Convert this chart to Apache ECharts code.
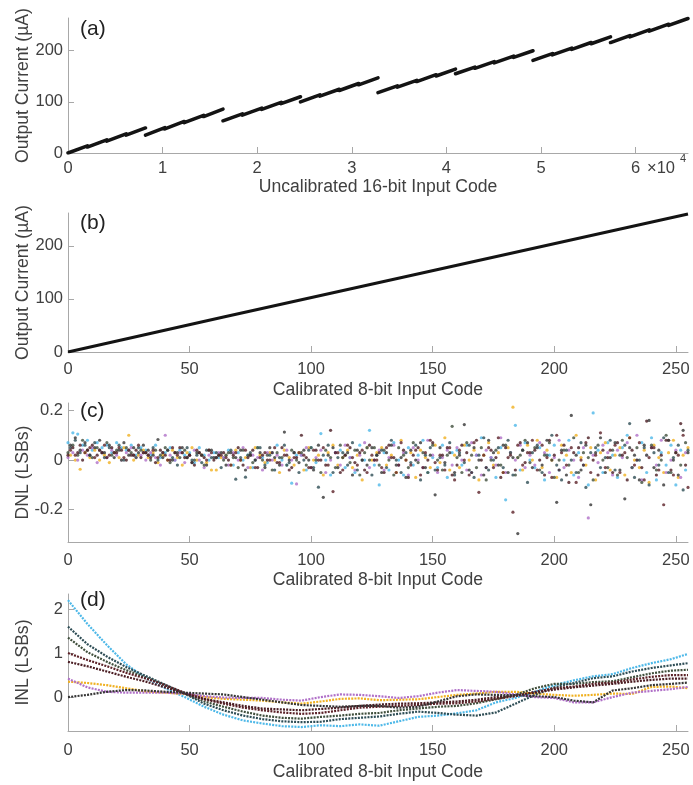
<!DOCTYPE html>
<html>
<head>
<meta charset="utf-8">
<script src="https://cdn.jsdelivr.net/npm/echarts/dist/echarts.min.js"></script>
<style>
  html, body { margin: 0; padding: 0; background: #fff; }
  #chart { width: 693px; height: 785px; }
</style>
</head>
<body>
<div id="chart"></div>
<script>
// (a) uncalibrated transfer curve: 2048-code sub-segments (start code, current at start, current at end)
var subStart = [0, 2048, 4096, 6144, 8192, 10240, 12288, 14336, 16384, 18432, 20480, 22528,
  24576, 26624, 28672, 30720, 32768, 34816, 36864, 38912, 40960, 43008, 45056, 47104,
  49152, 51200, 53248, 55296, 57344, 59392, 61440, 63488];
var subY0 = [0, 11.6, 23.3, 34.9, 35, 47.1, 59.2, 71.3, 63, 74.1, 85.2, 96.4,
  100, 111.1, 122.2, 133.4, 118, 128.9, 139.7, 150.6, 155, 165.6, 176.3, 186.9,
  181, 191.9, 202.7, 213.6, 216, 227.1, 238.2, 249.4];
var subY1 = [14.1, 25.8, 37.4, 49, 49.6, 61.7, 73.8, 86, 76.6, 87.7, 98.9, 110,
  113.6, 124.7, 135.9, 147, 131.4, 142.2, 153.1, 164, 168.1, 178.8, 189.4, 200,
  194.4, 205.2, 216.1, 227, 229.6, 240.7, 251.9, 263];

// (b) calibrated transfer curve
var calCodes = [0, 64, 128, 192, 255];
var calCurrent = [0, 66, 131, 196, 260];

// colours of the 8 devices
var devColors = ['#4DB8E8', '#F0B020', '#B070C8', '#404F3C', '#2E4D55', '#5C2228', '#4A1C22', '#353535'];

// (c) DNL, LSBs; even-code devices: blue, purple, olive, maroon2 ; odd-code devices: orange, slate, maroon, dark
var dnlBlue = [0.07,0.11,0.105,0.06,0.08,0.04,0.07,0.05,0.06,0.03,0.07,0.05,0.04,0.06,0.02,0.05,
  0.04,0.02,0.06,0.01,0.03,0.05,0.0,0.04,0.02,0.03,-0.01,0.05,0.02,0.0,0.03,0.01,
  0.01,0.04,-0.02,0.03,0.0,0.02,-0.03,0.05,0.01,-0.01,0.03,0.06,0.0,-0.02,-0.093,0.02,
  0.02,-0.04,0.05,-0.01,0.107,0.0,-0.06,0.03,0.04,-0.03,0.01,-0.05,0.06,0.0,0.12,-0.02,
  -0.1,0.03,-0.04,0.07,0.0,-0.06,0.05,-0.02,0.02,0.08,-0.05,0.01,-0.03,0.06,-0.07,0.03,
  0.04,-0.02,0.06,-0.05,0.02,0.09,-0.03,0.01,-0.07,0.05,-0.16,0.03,0.14,-0.04,0.07,0.0,
  -0.03,0.05,-0.08,0.02,0.06,-0.04,0.0,0.08,-0.06,0.03,-0.02,-0.1,0.19,0.04,-0.05,0.07,
  0.02,-0.07,0.05,0.1,-0.03,0.0,0.07,-0.05,0.09,-0.08,0.03,-0.02,0.06,-0.1,0.04,-0.04];
var dnlSlate = [0.05,0.08,0.03,0.06,0.02,0.07,0.04,0.01,0.05,0.03,0.06,0.0,0.04,0.02,0.05,0.03,
  0.02,0.05,0.0,0.03,0.04,0.01,-0.02,0.03,0.05,0.0,0.02,-0.01,0.04,0.01,0.03,-0.03,
  0.02,0.04,-0.077,0.01,-0.069,0.03,0.0,0.05,-0.02,0.02,-0.04,0.01,0.06,-0.01,0.03,-0.05,
  0.0,0.04,-0.03,-0.109,0.02,0.06,-0.05,0.01,0.03,-0.02,0.07,-0.04,0.0,0.05,-0.06,0.02,
  0.04,-0.03,0.08,0.0,-0.05,0.03,-0.01,0.06,-0.08,0.02,0.05,-0.04,0.01,-0.02,0.07,-0.06,
  0.03,-0.01,0.06,-0.07,0.02,0.09,-0.04,0.0,0.05,-0.03,0.08,-0.06,0.01,0.04,-0.09,0.03,
  0.06,-0.05,0.02,0.1,-0.02,-0.08,0.04,0.0,-0.05,0.07,-0.11,0.03,0.05,-0.03,0.01,0.08,
  -0.04,0.02,0.06,0.147,-0.07,0.0,0.05,-0.1,0.03,-0.02,0.09,-0.05,0.01,0.06,-0.12,0.04];
var dnlOlive = [0.03,0.06,0.02,0.08,0.04,0.01,0.05,0.03,0.07,0.02,0.04,0.0,0.05,0.03,0.01,0.04,
  0.03,0.0,0.04,0.02,0.05,-0.01,0.03,0.01,0.04,0.02,0.0,0.03,-0.02,0.04,0.01,0.02,
  0.0,0.03,0.01,-0.03,0.04,0.02,-0.01,0.05,0.0,0.02,-0.04,0.03,0.01,-0.02,0.04,0.0,
  0.03,-0.02,0.05,0.0,-0.05,0.04,0.01,-0.03,0.06,0.02,-0.01,0.04,-0.06,0.03,0.0,0.05,
  -0.02,0.04,0.0,-0.06,0.05,0.02,-0.03,0.07,-0.01,0.03,-0.05,0.06,0.0,-0.04,0.02,0.136,
  0.01,-0.05,0.07,0.02,-0.03,0.05,-0.08,0.0,0.04,-0.02,0.06,0.03,-0.06,0.02,0.08,-0.01,
  0.05,-0.04,0.02,0.07,-0.07,0.0,0.04,-0.02,0.09,-0.05,0.03,0.01,-0.08,0.06,0.0,-0.03,
  0.04,-0.06,0.08,0.01,-0.03,0.05,-0.09,0.02,0.06,-0.04,0.0,0.1,-0.05,0.03,-0.02,0.07];
var dnlMaroon = [0.04,0.02,0.06,0.03,0.05,0.01,0.04,0.06,0.02,0.03,0.05,0.01,0.04,0.02,0.06,0.03,
  0.02,0.04,0.01,0.03,0.0,0.05,0.02,0.03,0.01,-0.01,0.04,0.02,0.0,0.03,0.01,0.02,
  0.01,-0.02,0.03,0.0,0.04,0.02,-0.03,0.01,0.03,0.0,0.05,-0.01,0.02,-0.04,0.01,0.03,
  0.02,-0.03,0.04,0.0,0.05,-0.02,-0.127,0.03,-0.04,0.06,0.01,-0.02,0.04,-0.05,0.02,0.0,
  -0.03,0.05,0.01,-0.05,0.07,0.0,-0.02,0.04,-0.06,0.03,0.08,-0.01,0.02,-0.04,0.05,-0.08,
  0.04,0.0,-0.06,0.07,-0.13,0.02,0.05,-0.03,0.09,-0.05,0.01,-0.21,0.06,-0.02,0.03,0.08,
  -0.04,0.06,0.01,-0.07,0.1,0.03,-0.02,0.05,-0.09,0.0,0.07,-0.05,0.02,0.11,-0.03,0.04,
  0.06,-0.05,0.03,0.09,-0.02,0.07,-0.08,0.01,0.05,-0.04,-0.18,0.08,-0.06,0.02,0.1,-0.11];
var dnlMaroon2 = [0.02,0.05,0.03,0.0,0.04,0.06,0.02,0.03,0.01,0.05,0.03,0.04,0.0,0.02,0.04,0.01,
  0.03,0.01,-0.01,0.04,0.02,0.0,0.03,0.05,0.01,0.02,-0.02,0.03,0.01,0.04,0.0,0.02,
  0.03,0.0,0.02,0.05,-0.02,0.01,0.04,-0.03,0.02,0.0,0.03,-0.01,0.05,0.02,-0.03,0.01,
  0.1,0.01,-0.03,0.04,0.0,-0.02,0.12,0.03,-0.05,0.02,0.05,-0.01,0.03,-0.04,0.06,0.0,
  0.03,-0.05,0.06,0.01,-0.02,0.04,-0.07,0.02,0.05,-0.03,0.0,0.07,-0.04,0.02,0.05,-0.06,
  -0.02,0.06,0.03,-0.05,0.08,0.0,-0.03,0.04,0.01,-0.07,0.05,0.02,-0.04,0.07,-0.01,0.03,
  0.04,0.0,-0.06,0.08,0.02,-0.04,0.06,-0.09,0.03,0.05,-0.02,0.09,0.0,-0.06,0.04,0.01,
  -0.05,0.07,0.02,-0.08,0.04,0.0,-0.03,0.157,0.05,-0.06,0.02,0.08,-0.04,0.03,0.147,-0.02];
var dnlOrange = [0.02,0.0,-0.037,0.03,0.01,0.04,0.0,0.02,-0.01,0.03,0.01,0.05,0.1,0.0,0.02,0.04,
  0.01,0.03,-0.01,0.02,0.0,0.04,0.01,-0.02,0.03,0.05,0.0,0.02,-0.01,-0.04,-0.04,0.01,
  0.02,-0.02,0.04,0.0,0.01,-0.03,0.05,0.02,-0.01,0.03,0.0,-0.05,0.04,0.01,-0.02,0.03,
  -0.04,0.05,0.0,0.02,-0.06,0.03,0.06,-0.02,0.01,0.04,-0.03,0.02,-0.08,0.05,0.0,0.03,
  0.05,-0.02,0.02,-0.05,0.08,0.0,0.03,-0.07,0.04,0.01,-0.03,0.06,-0.01,0.09,-0.04,0.02,
  -0.03,0.06,0.0,0.04,-0.08,0.02,0.07,-0.02,0.03,-0.05,0.05,0.213,0.01,-0.04,0.06,0.0,
  0.08,-0.03,0.04,0.0,-0.07,0.06,0.02,-0.05,0.1,0.01,-0.02,0.05,-0.08,0.03,0.07,-0.04,
  0.02,0.05,-0.06,0.09,0.0,-0.03,0.04,-0.09,0.06,0.01,-0.05,0.03,0.08,-0.07,0.02,0.05];
var dnlPurple = [0.01,0.03,0.0,0.04,0.02,0.05,-0.01,0.03,0.01,0.04,0.02,0.0,0.03,0.05,0.01,0.02,
  0.0,0.03,0.01,-0.02,0.1,0.02,0.0,0.03,-0.01,0.02,0.04,0.0,-0.03,0.02,0.01,0.03,
  0.01,-0.02,0.03,0.0,0.05,-0.03,0.02,0.01,-0.04,0.03,0.0,0.02,-0.02,0.04,0.0,-0.096,
  0.02,0.05,-0.03,0.01,0.04,-0.05,0.0,0.03,-0.02,0.06,0.01,-0.04,0.02,0.07,-0.03,0.0,
  0.04,-0.04,0.01,0.06,-0.02,0.03,-0.06,0.05,0.0,-0.03,0.08,0.02,-0.05,0.01,0.04,-0.02,
  0.05,0.0,-0.04,0.07,0.02,-0.06,0.04,0.01,-0.02,0.09,-0.05,0.03,0.0,0.06,-0.03,0.02,
  -0.02,0.07,0.03,-0.05,0.01,0.08,-0.03,0.04,0.0,-0.07,0.05,-0.233,0.02,-0.01,0.06,0.03,
  -0.06,0.04,0.01,0.07,-0.03,0.1,-0.08,0.02,0.05,-0.02,0.08,-0.05,0.0,0.04,-0.07,0.03];
var dnlDark = [0.06,0.09,0.04,0.07,0.02,0.05,0.08,0.03,0.06,0.01,0.04,0.07,0.02,0.05,0.03,0.06,
  0.04,0.02,0.083,0.01,0.04,0.0,0.03,0.05,0.01,-0.01,0.03,0.02,-0.02,0.04,0.01,0.03,
  -0.02,0.03,0.01,0.04,-0.04,0.02,0.0,0.03,-0.03,0.05,0.01,-0.02,0.113,0.0,0.03,-0.01,
  0.04,0.0,-0.04,0.06,-0.15,0.02,0.05,-0.03,0.01,0.03,-0.06,0.04,0.0,-0.02,0.05,0.02,
  -0.05,0.03,0.06,-0.02,0.01,-0.07,0.04,0.0,0.07,-0.03,0.02,-0.14,0.05,-0.01,0.03,-0.05,
  0.02,0.143,-0.04,0.05,0.0,-0.06,0.08,0.03,-0.02,0.06,-0.05,0.01,-0.296,0.04,0.07,-0.03,
  0.05,-0.02,0.08,0.0,-0.17,0.04,-0.06,0.18,0.02,-0.04,0.06,-0.18,0.03,0.09,-0.05,0.01,
  0.07,-0.04,-0.156,0.05,0.02,-0.08,0.06,0.16,-0.03,0.04,-0.1,0.08,0.0,-0.06,0.12,0.03];

// (d) INL, LSBs, read every 8 codes
var inlCodes = [0, 8, 16, 24, 32, 40, 48, 56, 64, 72, 80, 88, 96, 104, 112, 120, 128,
  136, 144, 152, 160, 168, 176, 184, 192, 200, 208, 216, 224, 232, 240, 248, 255];
var inlBlue = [2.2,1.66,1.18,0.74,0.43,0.2,0.0,-0.22,-0.4,-0.53,-0.6,-0.66,-0.68,-0.64,-0.66,-0.62,-0.65,
  -0.55,-0.45,-0.42,-0.37,-0.3,-0.12,-0.02,0.12,0.27,0.38,0.47,0.52,0.66,0.77,0.86,0.98];
var inlOrange = [0.35,0.32,0.27,0.2,0.13,0.1,0.07,0.0,-0.04,-0.06,-0.08,-0.12,-0.15,-0.1,-0.04,-0.03,-0.07,
  -0.06,-0.05,0.0,0.05,0.08,0.12,0.12,0.08,0.05,0.03,0.05,0.08,0.07,0.23,0.24,0.2];
var inlPurple = [0.42,0.22,0.12,0.1,0.1,0.1,0.08,0.02,-0.01,-0.02,-0.02,-0.06,-0.08,0.0,0.06,0.05,0.02,
  -0.02,0.02,0.1,0.16,0.14,0.12,0.06,0.0,-0.02,-0.12,-0.12,0.0,0.1,0.14,0.18,0.23];
var inlOlive = [1.35,1.02,0.8,0.61,0.45,0.27,0.08,-0.1,-0.22,-0.33,-0.42,-0.47,-0.49,-0.45,-0.42,-0.38,-0.36,
  -0.3,-0.26,-0.22,-0.2,-0.14,-0.05,0.05,0.2,0.3,0.3,0.34,0.36,0.45,0.54,0.6,0.62];
var inlSlate = [1.6,1.2,0.92,0.68,0.48,0.28,0.08,-0.15,-0.3,-0.42,-0.5,-0.55,-0.57,-0.56,-0.5,-0.47,-0.44,
  -0.38,-0.33,-0.36,-0.4,-0.42,-0.35,-0.15,0.05,0.22,0.32,0.43,0.47,0.58,0.66,0.72,0.77];
var inlMaroon = [1.0,0.84,0.7,0.55,0.42,0.27,0.1,-0.05,-0.15,-0.24,-0.3,-0.35,-0.38,-0.36,-0.3,-0.24,-0.22,
  -0.2,-0.18,-0.15,-0.14,-0.1,-0.04,0.02,0.12,0.2,0.24,0.3,0.33,0.4,0.46,0.5,0.5];
var inlMaroon2 = [0.8,0.7,0.58,0.46,0.35,0.22,0.08,-0.04,-0.12,-0.2,-0.26,-0.28,-0.3,-0.27,-0.24,-0.2,-0.17,
  -0.15,-0.14,-0.12,-0.1,-0.06,0.0,0.04,0.1,0.17,0.22,0.26,0.3,0.35,0.39,0.42,0.42];
var inlDark = [0.0,0.05,0.12,0.16,0.15,0.12,0.1,0.08,0.06,0.0,-0.06,-0.12,-0.18,-0.2,-0.22,-0.2,-0.2,
  -0.24,-0.22,-0.1,0.02,0.06,0.05,0.04,0.02,0.0,-0.08,-0.12,0.15,0.2,0.27,0.3,0.33];

var codeTicks8 = [0, 50, 100, 150, 200, 250];
var codeTicks16 = [0, 10000, 20000, 30000, 40000, 50000, 60000];
var currentTicks = [0, 100, 200];
var dnlTicks = [-0.2, 0, 0.2];
var inlTicks = [0, 1, 2];

var FONT = '"Liberation Sans", Arial, Helvetica, sans-serif';
var TEXT = '#404040';
var AXIS = '#a8a8a8';

var chart = echarts.init(document.getElementById('chart'));

function xAxis(grid, max, ticks, name, margin, gap, fmt) {
  return {
    type: 'value', gridIndex: grid, min: 0, max: max,
    name: name, nameLocation: 'middle', nameGap: gap, nameMoveOverlap: false,
    nameTextStyle: { fontFamily: FONT, fontSize: 17.6, color: TEXT },
    axisLine: { onZero: false, lineStyle: { color: AXIS, width: 1 } },
    axisTick: { inside: true, length: 6, customValues: ticks, lineStyle: { color: AXIS } },
    axisLabel: { customValues: ticks, margin: margin, fontFamily: FONT, fontSize: 16.5, color: TEXT, formatter: fmt },
    splitLine: { show: false }
  };
}
function yAxis(grid, min, max, ticks, name) {
  return {
    type: 'value', gridIndex: grid, min: min, max: max,
    name: name, nameLocation: 'middle', nameGap: 36, nameMoveOverlap: false,
    nameTextStyle: { fontFamily: FONT, fontSize: 17.6, color: TEXT },
    axisLine: { show: true, onZero: false, lineStyle: { color: AXIS, width: 1 } },
    axisTick: { show: true, inside: true, length: 6, customValues: ticks, lineStyle: { color: AXIS } },
    axisLabel: { customValues: ticks, margin: 5, fontFamily: FONT, fontSize: 16.5, color: TEXT },
    splitLine: { show: false }
  };
}

// build (a) line with gaps between sub-segments
var dataA = [];
for (var i = 0; i < subStart.length; i++) {
  dataA.push([subStart[i], subY0[i]]);
  dataA.push([subStart[i] + 2047, subY1[i]]);
  dataA.push([subStart[i] + 2047.5, null]);
}
var dataB = calCodes.map(function (c, i) { return [c, calCurrent[i]]; });

var dnlSets = [
  { d: dnlBlue, c: 0, off: 0 }, { d: dnlOrange, c: 1, off: 1 }, { d: dnlPurple, c: 2, off: 0 },
  { d: dnlOlive, c: 3, off: 0 }, { d: dnlSlate, c: 4, off: 1 }, { d: dnlMaroon, c: 5, off: 1 },
  { d: dnlMaroon2, c: 6, off: 0 }, { d: dnlDark, c: 7, off: 1 }
];
var inlSets = [inlBlue, inlOrange, inlPurple, inlOlive, inlSlate, inlMaroon, inlMaroon2, inlDark];

var series = [
  { type: 'line', xAxisIndex: 0, yAxisIndex: 0, data: dataA, symbol: 'none', connectNulls: false,
    lineStyle: { color: '#141414', width: 3.5, cap: 'round' }, silent: true },
  { type: 'line', xAxisIndex: 1, yAxisIndex: 1, data: dataB, symbol: 'none',
    lineStyle: { color: '#141414', width: 3 }, silent: true }
];
dnlSets.forEach(function (s) {
  series.push({
    type: 'scatter', xAxisIndex: 2, yAxisIndex: 2, symbol: 'circle', symbolSize: 3.2,
    itemStyle: { color: devColors[s.c] }, silent: true,
    data: s.d.map(function (v, i) { return [2 * i + s.off, v]; })
  });
});
inlSets.forEach(function (arr, k) {
  series.push({
    type: 'line', xAxisIndex: 3, yAxisIndex: 3, symbol: 'none', silent: true,
    lineStyle: { color: devColors[k], width: 2.2, type: [2, 1.2] },
    data: arr.map(function (v, i) { return [inlCodes[i], v]; })
  });
});

function panelLabel(txt, top) {
  return { type: 'text', left: 80, top: top, style: { text: txt, font: '21px ' + FONT, fill: '#222' } };
}

chart.setOption({
  animation: false,
  backgroundColor: '#fff',
  grid: [
    { left: 68, right: 5, top: 18, height: 135 },
    { left: 68, right: 5, top: 213, height: 139 },
    { left: 68, right: 5, top: 403, height: 139 },
    { left: 68, right: 5, top: 594, height: 137 }
  ],
  xAxis: [
    xAxis(0, 65535, codeTicks16, 'Uncalibrated 16-bit Input Code', 7, 25, function (v) { return v / 10000; }),
    xAxis(1, 255, codeTicks8, 'Calibrated 8-bit Input Code', 8.5, 29),
    xAxis(2, 255, codeTicks8, 'Calibrated 8-bit Input Code', 10, 29),
    xAxis(3, 255, codeTicks8, 'Calibrated 8-bit Input Code', 11, 32)
  ],
  yAxis: [
    yAxis(0, 0, 264, currentTicks, 'Output Current (\u00b5A)'),
    yAxis(1, 0, 262, currentTicks, 'Output Current (\u00b5A)'),
    yAxis(2, -0.33, 0.23, dnlTicks, 'DNL (LSBs)'),
    yAxis(3, -0.77, 2.34, inlTicks, 'INL (LSBs)')
  ],
  graphic: [
    panelLabel('(a)', 19),
    panelLabel('(b)', 213),
    panelLabel('(c)', 401),
    panelLabel('(d)', 590),
    { type: 'text', left: 647, top: 160, style: { text: '\u00d710', font: '16.5px ' + FONT, fill: TEXT } },
    { type: 'text', left: 680, top: 153, style: { text: '4', font: '11px ' + FONT, fill: TEXT } }
  ],
  series: series
});
</script>
</body>
</html>
